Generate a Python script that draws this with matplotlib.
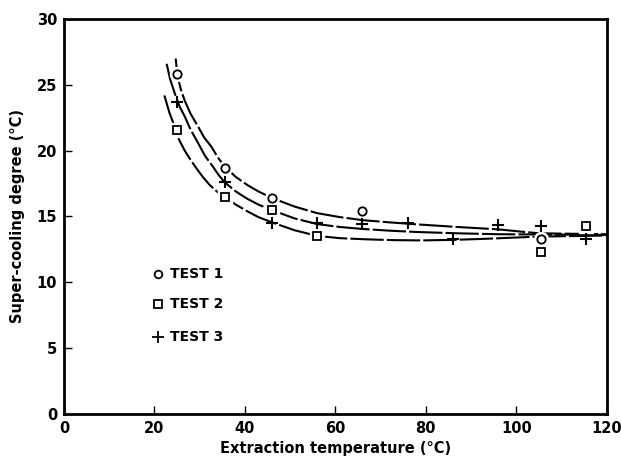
import matplotlib
matplotlib.use("Agg")
import matplotlib.pyplot as plt

test1_x = [25, 35.5, 46, 66, 105.5]
test1_y = [25.8, 18.7, 16.4, 15.4, 13.3]
test2_x = [25, 35.5, 46, 56, 105.5, 115.5]
test2_y = [21.6, 16.5, 15.5, 13.5, 12.3, 14.3]
test3_x = [25, 35.5, 46, 56, 66, 76, 86, 96, 105.5, 115.5]
test3_y = [23.7, 17.6, 14.5, 14.5, 14.4, 14.5, 13.3, 14.35, 14.25, 13.3]

# hand-drawn trend curves
upper_x = [24.7, 25.1, 25.8, 26.7, 28.0, 29.7, 31.0, 32.6, 34.0, 35.5, 38.0, 40.5, 43.0, 46.0,
           51.0, 56.0, 61.0, 66.0, 72.0, 78.0, 87.0, 96.0, 101.0, 105.0, 120]
upper_y = [27.0, 25.7, 24.7, 23.8, 22.8, 21.8, 21.0, 20.3, 19.5, 18.8, 18.0, 17.4, 16.9, 16.4,
           15.75, 15.25, 14.95, 14.72, 14.55, 14.4, 14.2, 14.02, 13.85, 13.72, 13.65]
middle_x = [22.7, 23.5, 24.5, 25.5, 26.7, 28.0, 29.7, 31.2, 32.9, 34.2, 35.5, 38.0, 40.5, 43.0,
            45.8, 51.0, 56.0, 61.0, 66.0, 72.0, 78.0, 87.0, 96.0, 120]
middle_y = [26.6, 25.4, 24.35, 23.4, 22.6, 21.6, 20.55, 19.6, 18.8, 18.15, 17.6, 16.9, 16.35, 15.9,
            15.5, 14.85, 14.42, 14.2, 14.05, 13.92, 13.82, 13.72, 13.65, 13.6]
lower_x = [22.2, 23.3, 24.5, 25.5, 26.7, 28.0, 29.3, 30.7, 32.2, 33.8, 35.5, 38.0, 40.5, 43.0,
           46.0, 51.0, 56.0, 61.0, 67.0, 73.0, 79.0, 86.0, 93.0, 100.0, 105.0, 120]
lower_y = [24.2, 22.9, 21.8, 20.8, 20.0, 19.3, 18.65, 18.0, 17.4, 16.9, 16.5, 15.9, 15.4, 14.95,
           14.55, 13.95, 13.52, 13.35, 13.26, 13.2, 13.18, 13.22, 13.3, 13.4, 13.47, 13.55]

fig = plt.figure(figsize=(6.21, 4.65), dpi=100)
ax = fig.add_axes([0.103, 0.11, 0.874, 0.849])

for cx, cy in [(upper_x, upper_y), (middle_x, middle_y), (lower_x, lower_y)]:
    ax.plot(cx, cy, color="black", lw=1.5, dashes=(16, 1.5), zorder=2)

# white halos so the curves break around the symbols
ax.plot(test1_x, test1_y, ls="none", marker="o", ms=10, mfc="white", mec="white", zorder=3)
ax.plot(test2_x, test2_y, ls="none", marker="s", ms=10, mfc="white", mec="white", zorder=3)

ax.plot(test1_x, test1_y, ls="none", marker="o", ms=6, mfc="white", mec="black", mew=1.3, zorder=4)
ax.plot(test2_x, test2_y, ls="none", marker="s", ms=6, mfc="white", mec="black", mew=1.3, zorder=4)
ax.plot(test3_x, test3_y, ls="none", marker="+", ms=9, mec="black", mew=1.5, zorder=4)

# legend written inside the axes
leg_y = [10.6, 8.35, 5.85]
leg_txt = ["TEST 1", "TEST 2", "TEST 3"]
for yy, txt, m, ms in zip(leg_y, leg_txt, ["o", "s", "+"], [5.5, 5.5, 8.5]):
    ax.plot([20.8], [yy], ls="none", marker=m, ms=ms, mfc="white", mec="black", mew=1.3)
    ax.text(23.5, yy, txt, fontsize=10, fontweight="bold", va="center", ha="left")

ax.set_xlim(0, 120)
ax.set_ylim(0, 30)
ax.set_xticks([0, 20, 40, 60, 80, 100, 120])
ax.set_yticks([0, 5, 10, 15, 20, 25, 30])
ax.tick_params(direction="in", length=6, width=1, labelsize=10.5, pad=5)
for lab in ax.get_xticklabels() + ax.get_yticklabels():
    lab.set_fontweight("bold")
for s in ax.spines.values():
    s.set_linewidth(2)

ax.set_xlabel("Extraction temperature (°C)", fontsize=10.5, fontweight="bold", labelpad=4)
ax.set_ylabel("Super-cooling degree (°C)", fontsize=10.5, fontweight="bold", labelpad=8)

fig.savefig("out.png", dpi=100)
